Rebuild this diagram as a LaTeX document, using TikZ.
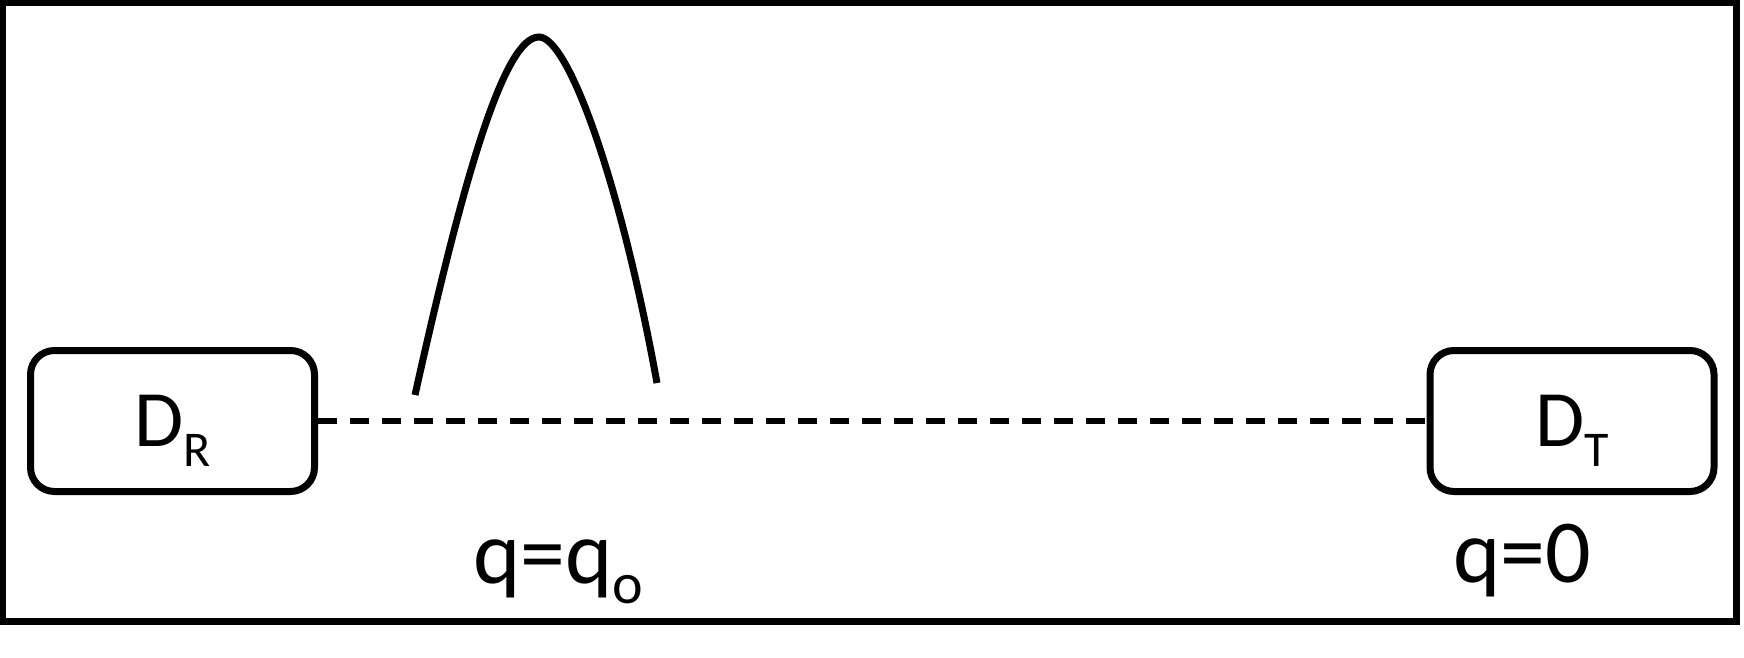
\documentclass[tikz,border=0pt]{standalone}
\usepackage{fontspec}
\setmainfont{Carlito}
\usetikzlibrary{positioning}
\tikzset{
  devbox/.style={rectangle, draw, line width=3.5pt, rounded corners=12pt, minimum width=142pt, minimum height=70.5pt, inner sep=0pt, font=\fontsize{40}{44}\selectfont},
  qlabel/.style={anchor=base west, inner sep=0pt, font=\fontsize{45}{48}\selectfont},
  link/.style={dash pattern=on 9.5pt off 6.5pt, line width=2.8pt},
  bump/.style={line width=3.5pt},
}
\newcommand{\subtext}[2][24]{\raisebox{-10pt}{\fontsize{#1}{#1}\selectfont #2}}

\begin{document}
\begin{tikzpicture}[x=0.5pt, y=-0.5pt]
\useasboundingbox (0,0) rectangle (1744,658);
%Frame
\draw[line width=3.5pt] (2.5,2.5) rectangle (1736.5,621.5);

%Nodes
\node[devbox] (dr) at (172.5,421) {\raisebox{0pt}[25.5pt][0pt]{D\subtext[25]{R}}};
\node[devbox] (dt) at (1572,421) {\raisebox{0pt}[25.5pt][0pt]{D\subtext[25]{T}}};
\node[qlabel] (qo) at (473,583) {q=q\subtext[29]{o}};
\node[qlabel] (qzero) at (1453,582) {q=0};

%Lines
\draw[link] (dr.east) -- (dt.west);
\draw[bump] (415,395) .. controls (465,170) and (505,37) .. (539,37)
  .. controls (568,37) and (620,180) .. (657,383);
\end{tikzpicture}
\end{document}
